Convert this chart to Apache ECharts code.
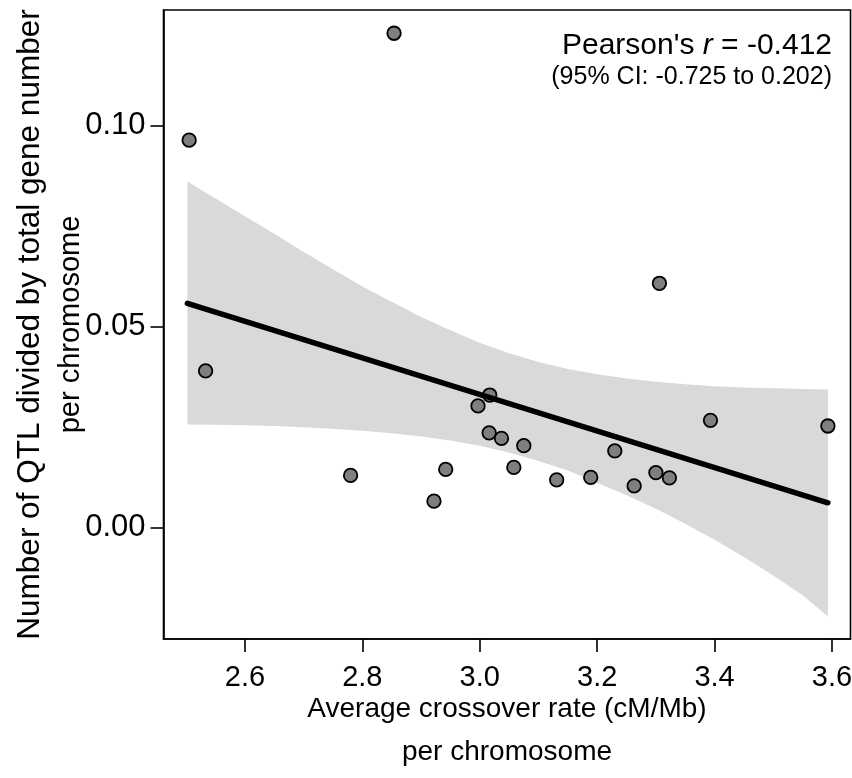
<!DOCTYPE html>
<html>
<head>
<meta charset="utf-8">
<script src="https://cdn.jsdelivr.net/npm/echarts@6/dist/echarts.min.js"></script>
<style>
html,body{margin:0;padding:0;background:#fff;}
#chart{width:852px;height:778px;}
</style>
</head>
<body>
<div id="chart"></div>
<script>
// Observed points: average crossover rate (cM/Mb) vs QTL / total gene number
const crossoverRate = [2.505, 2.854, 2.533, 2.780, 2.922, 2.942, 2.997, 3.017, 3.016, 3.037, 3.058,
                       3.075, 3.131, 3.189, 3.230, 3.263, 3.300, 3.323, 3.306, 3.393, 3.593];
const qtlRatio      = [0.0963, 0.1229, 0.0389, 0.0129, 0.0065, 0.0144, 0.0302, 0.0329, 0.0235, 0.0221, 0.0149,
                       0.0203, 0.0118, 0.0124, 0.0190, 0.0103, 0.0136, 0.0123, 0.0607, 0.0266, 0.0252];

// Regression line end points
const fitX = [2.502, 3.593];
const fitY = [0.0557, 0.0061];

// 95% confidence band
const bandX     = [2.502, 2.55, 2.60, 2.65, 2.70, 2.75, 2.80, 2.85, 2.90, 2.95, 3.00, 3.05,
                   3.10, 3.15, 3.20, 3.25, 3.30, 3.35, 3.40, 3.45, 3.50, 3.55, 3.593];
const bandUpper = [0.0860, 0.0818, 0.0774, 0.0730, 0.0685, 0.0642, 0.0599, 0.0561, 0.0523, 0.0490, 0.0459, 0.0433,
                   0.0411, 0.0394, 0.0381, 0.0370, 0.0362, 0.0356, 0.0351, 0.0348, 0.0346, 0.0344, 0.0343];
const bandLower = [0.0256, 0.0255, 0.0254, 0.0252, 0.0249, 0.0245, 0.0240, 0.0234, 0.0226, 0.0216, 0.0203, 0.0186,
                   0.0165, 0.0141, 0.0111, 0.0080, 0.0046, 0.0009, -0.0031, -0.0074, -0.0120, -0.0169, -0.0222];

// Tick labels
const xTicks = [2.6, 2.8, 3.0, 3.2, 3.4, 3.6];
const yTicks = [0.00, 0.05, 0.10];

const FONT = 'Liberation Sans, Arial, sans-serif';

const chart = echarts.init(document.getElementById('chart'), null, {renderer: 'canvas'});

const scatterData = crossoverRate.map((x, i) => [x, qtlRatio[i]]);
const fitData = fitX.map((x, i) => [x, fitY[i]]);

const option = {
  animation: false,
  backgroundColor: '#ffffff',
  grid: {
    left: 163.5, right: 1.5, top: 10, bottom: 139,
    outerBoundsMode: 'none',
    containLabel: false,
    show: true, borderColor: '#000', borderWidth: 1.6, backgroundColor: 'transparent'
  },
  xAxis: {
    type: 'value',
    min: 2.4613, max: 3.6315,
    name: 'Average crossover rate (cM/Mb)\nper chromosome',
    nameLocation: 'middle',
    nameMoveOverlap: false,
    nameGap: 49,
    nameTextStyle: {fontFamily: FONT, fontSize: 28, color: '#000', lineHeight: 43, verticalAlign: 'top'},
    axisLine: {show: true, onZero: false, lineStyle: {color: '#000', width: 1.6}},
    axisTick: {show: true, customValues: xTicks, length: 13, lineStyle: {color: '#000', width: 1.6}},
    axisLabel: {customValues: xTicks, formatter: v => v.toFixed(1), margin: 24,
                fontFamily: FONT, fontSize: 29, color: '#000'},
    splitLine: {show: false}
  },
  yAxis: {
    type: 'value',
    min: -0.02779, max: 0.12868,
    name: '{a|Number of QTL divided by total gene number}\n{b|per chromosome}',
    nameLocation: 'middle',
    nameMoveOverlap: false,
    nameRotate: 90,
    nameGap: 73,
    nameTextStyle: {
      fontFamily: FONT, color: '#000',
      rich: {
        a: {fontFamily: FONT, fontSize: 31.5, color: '#000', lineHeight: 40},
        b: {fontFamily: FONT, fontSize: 29, color: '#000', lineHeight: 40}
      }
    },
    axisLine: {show: true, onZero: false, lineStyle: {color: '#000', width: 1.6}},
    axisTick: {show: true, customValues: yTicks, length: 13, lineStyle: {color: '#000', width: 1.6}},
    axisLabel: {customValues: yTicks, formatter: v => v.toFixed(2), margin: 18,
                fontFamily: FONT, fontSize: 31, color: '#000'},
    splitLine: {show: false}
  },
  series: [
    {
      type: 'custom',
      z: 1,
      silent: true,
      data: [[bandX[0], bandUpper[0]]],
      renderItem: function (params, api) {
        const pts = [];
        for (let i = 0; i < bandX.length; i++) pts.push(api.coord([bandX[i], bandUpper[i]]));
        for (let i = bandX.length - 1; i >= 0; i--) pts.push(api.coord([bandX[i], bandLower[i]]));
        return {type: 'polygon', shape: {points: pts}, style: {fill: '#d9d9d9', stroke: null}};
      }
    },
    {
      type: 'scatter',
      z: 3,
      data: scatterData,
      symbol: 'circle',
      symbolSize: 13.5,
      itemStyle: {color: '#7f7f7f', borderColor: '#000', borderWidth: 1.8, opacity: 1}
    },
    {
      type: 'line',
      z: 4,
      data: fitData,
      symbol: 'none',
      lineStyle: {color: '#000', width: 5.5, cap: 'round'}
    }
  ],
  graphic: [
    {
      type: 'text',
      right: 20, top: 31,
      style: {
        text: "{a|Pearson's }{i|r}{a| = -0.412}",
        rich: {
          a: {fontFamily: FONT, fontSize: 30, fill: '#000'},
          i: {fontFamily: FONT, fontSize: 30, fontStyle: 'italic', fill: '#000'}
        },
        fill: '#000'
      }
    },
    {
      type: 'text',
      right: 20, top: 65,
      style: {
        text: '(95% CI: -0.725 to 0.202)',
        fontFamily: FONT, fontSize: 25, fill: '#000'
      }
    }
  ]
};

chart.setOption(option);
</script>
</body>
</html>
